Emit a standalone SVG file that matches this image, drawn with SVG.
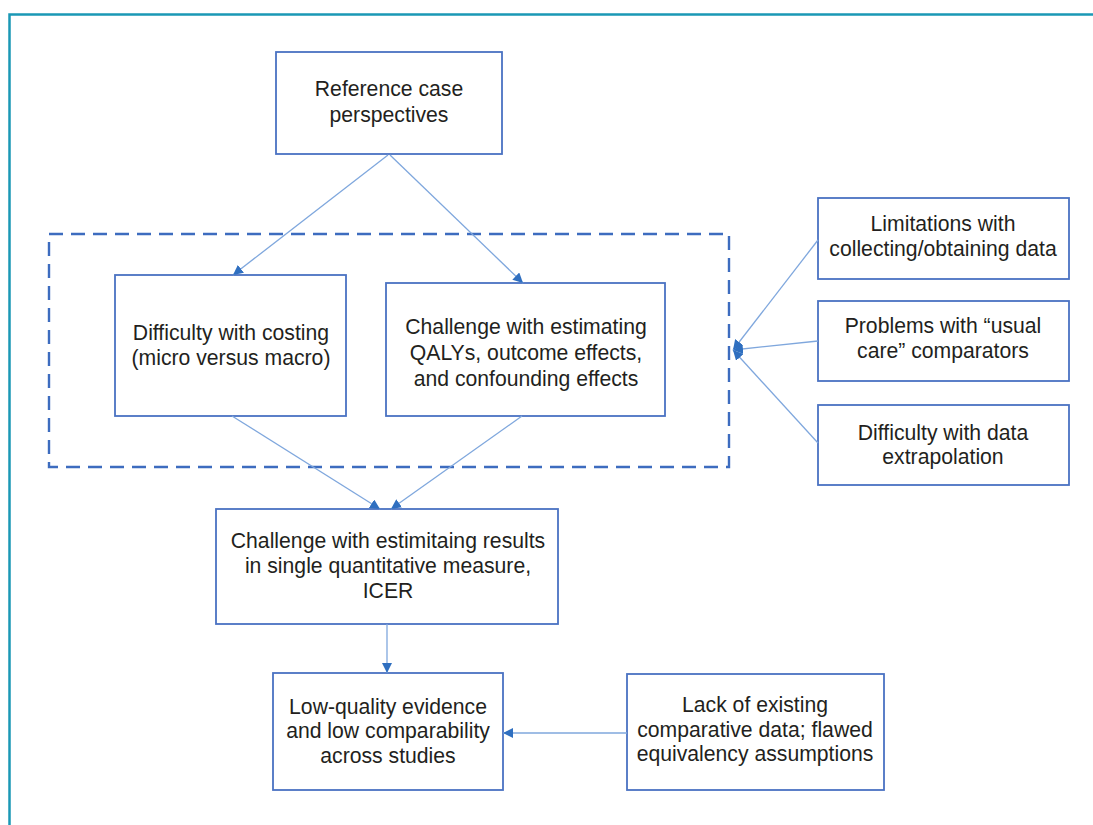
<svg xmlns="http://www.w3.org/2000/svg" width="1093" height="825" viewBox="0 0 1093 825">
<defs>
<style>
.box{fill:#fff;stroke:#4a72c2;stroke-width:1.8}
.t{font-family:"Liberation Sans",Arial,sans-serif;font-size:21.2px;fill:#231f20;text-anchor:middle}
.c{fill:none;stroke:#7fa7dd;stroke-width:1.3}
</style>
<marker id="ah" viewBox="0 0 10 10" refX="10" refY="5" markerWidth="10" markerHeight="10" markerUnits="userSpaceOnUse" orient="auto">
<path d="M0,0 L10,5 L0,10 z" fill="#2f6fc0"/>
</marker>
</defs>
<rect width="1093" height="825" fill="#fff"/>
<path d="M9.5,830 V14.5 H1100" fill="none" stroke="#1a98b5" stroke-width="2.5"/>
<rect id="group-frame" x="49" y="234" width="680" height="233" fill="none" stroke="#3d6cbf" stroke-width="2.4" stroke-dasharray="14,8"/>
<g id="n-ref"><rect class="box" x="276" y="52" width="226" height="102"/>
<text class="t" x="389" y="96">Reference case</text><text class="t" x="389" y="122">perspectives</text></g>
<g id="n-costing"><rect class="box" x="115" y="275" width="231" height="141"/>
<text class="t" x="231" y="340">Difficulty with costing</text><text class="t" x="231" y="365">(micro versus macro)</text></g>
<g id="n-qaly"><rect class="box" x="386" y="283" width="279" height="133"/>
<text class="t" x="526" y="334">Challenge with estimating</text><text class="t" x="526" y="360">QALYs, outcome effects,</text><text class="t" x="526" y="386">and confounding effects</text></g>
<g id="n-limit"><rect class="box" x="818" y="198" width="251" height="81"/>
<text class="t" x="943" y="231">Limitations with</text><text class="t" x="943" y="256">collecting/obtaining data</text></g>
<g id="n-usual"><rect class="box" x="818" y="301" width="251" height="80"/>
<text class="t" x="943" y="333">Problems with “usual</text><text class="t" x="943" y="358">care” comparators</text></g>
<g id="n-extra"><rect class="box" x="818" y="405" width="251" height="80"/>
<text class="t" x="943" y="440">Difficulty with data</text><text class="t" x="943" y="464">extrapolation</text></g>
<g id="n-icer"><rect class="box" x="216" y="509" width="342" height="115"/>
<text class="t" x="388" y="548">Challenge with estimitaing results</text><text class="t" x="388" y="573">in single quantitative measure,</text><text class="t" x="388" y="598">ICER</text></g>
<g id="n-low"><rect class="box" x="273" y="673" width="230" height="117"/>
<text class="t" x="388" y="714">Low-quality evidence</text><text class="t" x="388" y="738">and low comparability</text><text class="t" x="388" y="763">across studies</text></g>
<g id="n-lack"><rect class="box" x="627" y="674" width="257" height="116"/>
<text class="t" x="755" y="712">Lack of existing</text><text class="t" x="755" y="737">comparative data; flawed</text><text class="t" x="755" y="761">equivalency assumptions</text></g>
<g id="connectors">
<line class="c" x1="388" y1="155" x2="233" y2="275" marker-end="url(#ah)"/>
<line class="c" x1="390" y1="155" x2="523" y2="283" marker-end="url(#ah)"/>
<line class="c" x1="232" y1="416" x2="380" y2="509" marker-end="url(#ah)"/>
<line class="c" x1="522" y1="416" x2="391" y2="509" marker-end="url(#ah)"/>
<line class="c" x1="387" y1="624" x2="387" y2="673" marker-end="url(#ah)"/>
<line class="c" x1="627" y1="733" x2="503" y2="733" marker-end="url(#ah)"/>
<line class="c" x1="818" y1="240" x2="733" y2="350" marker-end="url(#ah)"/>
<line class="c" x1="818" y1="341" x2="733" y2="350" marker-end="url(#ah)"/>
<line class="c" x1="818" y1="443" x2="733" y2="350" marker-end="url(#ah)"/>
</g>
</svg>
